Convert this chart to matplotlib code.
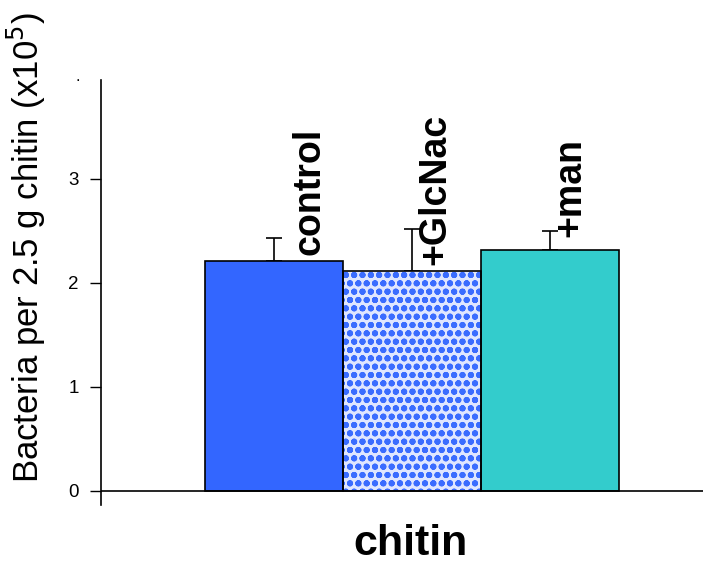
import numpy as np
from matplotlib import pyplot as plt

# data
groups = ['control', '+GlcNac', '+man']
values = [2.21, 2.11, 2.32]
errors = [0.22, 0.41, 0.18]
yticks = [0, 1, 2, 3]

colors = ['#3366ff', '#ffffff', '#33cccc']

plt.rcParams['font.family'] = ['Liberation Sans', 'DejaVu Sans']
plt.rcParams['hatch.linewidth'] = 2.0

fig = plt.figure(figsize=(7.17, 5.67), dpi=100)
ax = fig.add_axes([0.1409, 0.1093, 0.8396, 0.7496])

x = np.arange(len(groups))

# fill first (the hatched one gets blue dots), then black outlines on top
for i in range(len(groups)):
    if groups[i] == '+GlcNac':
        ax.bar(x[i], values[i], width=1.0, color='#dfe6ff', edgecolor='#3a6cff',
               hatch='oo', linewidth=0, zorder=2)
    else:
        ax.bar(x[i], values[i], width=1.0, color=colors[i], linewidth=0, zorder=2)
ax.bar(x, values, width=1.0, fill=False, edgecolor='black', linewidth=1.2, zorder=3)

ax.errorbar(x, values, yerr=[np.zeros(len(errors)), errors], fmt='none',
            ecolor='black', elinewidth=1.2, capsize=6, capthick=1.2, zorder=1)

# labels next to the bars
label_dx = [0.26, 0.17, 0.15]
label_y = [2.27, 2.17, 2.44]
for i, g in enumerate(groups):
    ax.text(x[i] + label_dx[i], label_y[i], g, rotation=90, ha='center', va='bottom',
            fontsize=27, fontweight='bold')

ax.set_xlim(-1.254, 3.109)
ax.set_ylim(-0.135, 3.95)
ax.axhline(0, color='black', linewidth=1.2, zorder=4)

ax.spines['top'].set_visible(False)
ax.spines['right'].set_visible(False)
ax.spines['bottom'].set_visible(False)
ax.spines['left'].set_linewidth(1.2)

ax.set_xticks([])
ax.set_yticks(yticks)
ax.tick_params(axis='y', direction='out', length=8, width=1.0, labelsize=13.5, pad=8)

ax.set_ylabel('Bacteria per 2.5 g chitin (x10$^5$)', fontsize=25)
ax.yaxis.set_label_coords(-0.088, 0.605)
fig.text(0.572, 0.022, 'chitin', ha='center', va='baseline', fontsize=31, fontweight='bold')
fig.text(0.108, 0.857, '.', ha='center', va='baseline', fontsize=12)

fig.savefig('out.png', dpi=100)
